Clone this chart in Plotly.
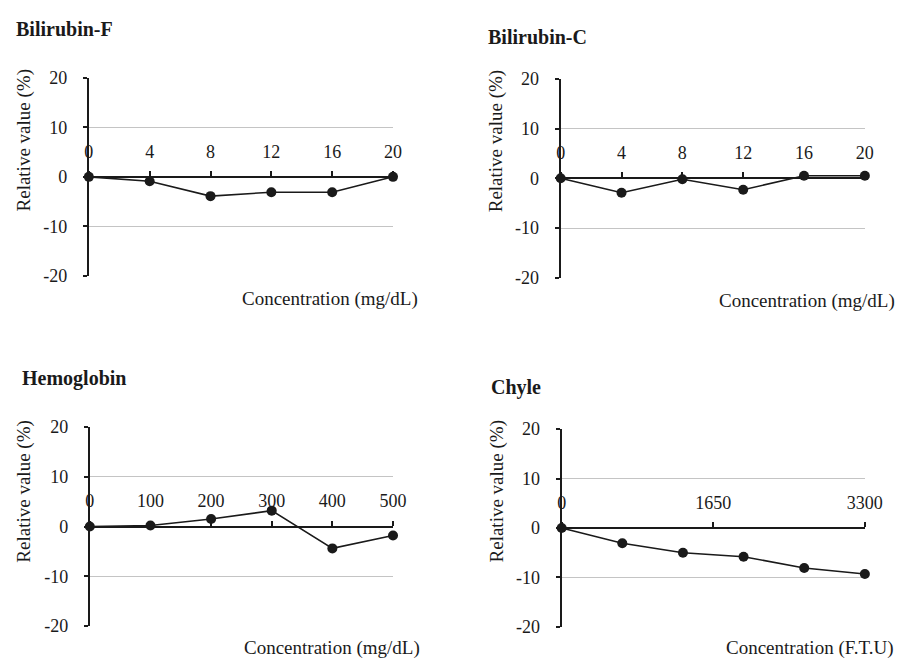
import plotly.graph_objects as go

W, H = 916, 667

# ---------------- data ----------------
conc_bili = [0, 4, 8, 12, 16, 20]
bili_f = [0, -0.9, -3.9, -3.1, -3.1, 0]
bili_c = [0, -2.9, -0.2, -2.3, 0.5, 0.5]
conc_hb = [0, 100, 200, 300, 400, 500]
hemoglobin = [0, 0.2, 1.5, 3.2, -4.4, -1.8]
conc_chyle = [0, 660, 1320, 1980, 2640, 3300]
chyle = [0, -3.1, -5.0, -5.8, -8.1, -9.3]

ticks_bili = [0, 4, 8, 12, 16, 20]
ticks_hb = [0, 100, 200, 300, 400, 500]
ticks_chyle = [0, 1650, 3300]
y_ticks = [-20, -10, 0, 10, 20]

titles = ["Bilirubin-F", "Bilirubin-C", "Hemoglobin", "Chyle"]
x_titles = ["Concentration (mg/dL)", "Concentration (mg/dL)",
            "Concentration (mg/dL)", "Concentration (F.T.U)"]
y_title = "Relative value (%)"

FONT = "Liberation Serif, Times New Roman, serif"
INK = "#1a1a1a"

# panel geometry in pixels: (left, right, top, bottom)
panels = [
    (86, 398, 70, 274),
    (570, 882, 71, 276),
    (87, 398, 430, 635),
    (571, 882, 432, 636),
]
title_pos = [(9, 20), (493, 28), (15, 380), (496, 389)]
ytitle_pos = [(19, 135), (504, 135), (20, 496), (505, 496)]
xtitle_pos = [(426, 298), (915, 300), (428, 658), (914, 658)]

series = [
    (conc_bili, bili_f, ticks_bili, [0, 20]),
    (conc_bili, bili_c, ticks_bili, [0, 20]),
    (conc_hb, hemoglobin, ticks_hb, [0, 500]),
    (conc_chyle, chyle, ticks_chyle, [0, 3300]),
]

fig = go.Figure()
layout = {}
annotations = []

for i, ((l, r, t, b), (xs, ys, xt, xr)) in enumerate(zip(panels, series)):
    n = i + 1
    xa = f"xaxis{n}" if n > 1 else "xaxis"
    ya = f"yaxis{n}" if n > 1 else "yaxis"
    xref = f"x{n}" if n > 1 else "x"
    yref = f"y{n}" if n > 1 else "y"
    xdom = [l / W, r / W]
    ydom = [1 - b / H, 1 - t / H]
    zero_pos = (ydom[0] + ydom[1]) / 2

    fig.add_trace(go.Scatter(
        x=xs, y=ys, xaxis=xref, yaxis=yref, mode="lines+markers",
        line=dict(color=INK, width=1.6),
        marker=dict(color=INK, size=10),
        cliponaxis=False, showlegend=False, hoverinfo="x+y"))

    layout[xa] = dict(
        domain=xdom, range=xr, anchor="free", position=zero_pos, side="top",
        tickmode="array", tickvals=xt, ticktext=[str(v) for v in xt],
        ticks="outside", ticklen=5, tickwidth=1.5, tickcolor=INK,
        showline=True, linecolor=INK, linewidth=2,
        showgrid=False, zeroline=False,
        tickfont=dict(family=FONT, size=18, color=INK),
        ticklabelstandoff=6,
    )
    layout[ya] = dict(
        domain=ydom, range=[-20, 20], anchor=xref,
        tickmode="array", tickvals=y_ticks, ticktext=[str(v) for v in y_ticks],
        ticks="outside", ticklen=4, tickwidth=1.5, tickcolor=INK,
        showline=True, linecolor=INK, linewidth=2,
        showgrid=True, gridcolor="#c4c4c4", gridwidth=1,
        zeroline=False,
        tickfont=dict(family=FONT, size=18, color=INK),
        ticklabelstandoff=12,
    )
    # overlay axis: downward halves of the x tick marks
    m = n + 4
    layout[f"xaxis{m}"] = dict(
        domain=xdom, range=xr, anchor="free", position=zero_pos, side="bottom",
        overlaying=xref, tickmode="array", tickvals=xt,
        ticks="outside", ticklen=5, tickwidth=1.5, tickcolor=INK,
        showticklabels=False, showline=False, showgrid=False, zeroline=False,
    )

    tx, ty = title_pos[i]
    annotations.append(dict(
        text=f"<b>{titles[i]}</b>", xref="paper", yref="paper",
        x=tx / W, y=1 - ty / H, xanchor="left", yanchor="middle",
        showarrow=False, font=dict(family=FONT, size=20, color=INK)))
    yx, yy = ytitle_pos[i]
    annotations.append(dict(
        text=y_title, xref="paper", yref="paper", textangle=-90,
        x=yx / W, y=1 - yy / H, xanchor="center", yanchor="middle",
        showarrow=False, font=dict(family=FONT, size=19, color=INK)))
    xx, xy = xtitle_pos[i]
    annotations.append(dict(
        text=x_titles[i], xref="paper", yref="paper",
        x=xx / W, y=1 - xy / H, xanchor="right", yanchor="middle",
        showarrow=False, font=dict(family=FONT, size=19, color=INK)))

fig.update_layout(
    width=W, height=H, margin=dict(l=0, r=0, t=0, b=0),
    paper_bgcolor="white", plot_bgcolor="white",
    font=dict(family=FONT, color=INK),
    annotations=annotations, **layout)

fig.write_html("out.html")
